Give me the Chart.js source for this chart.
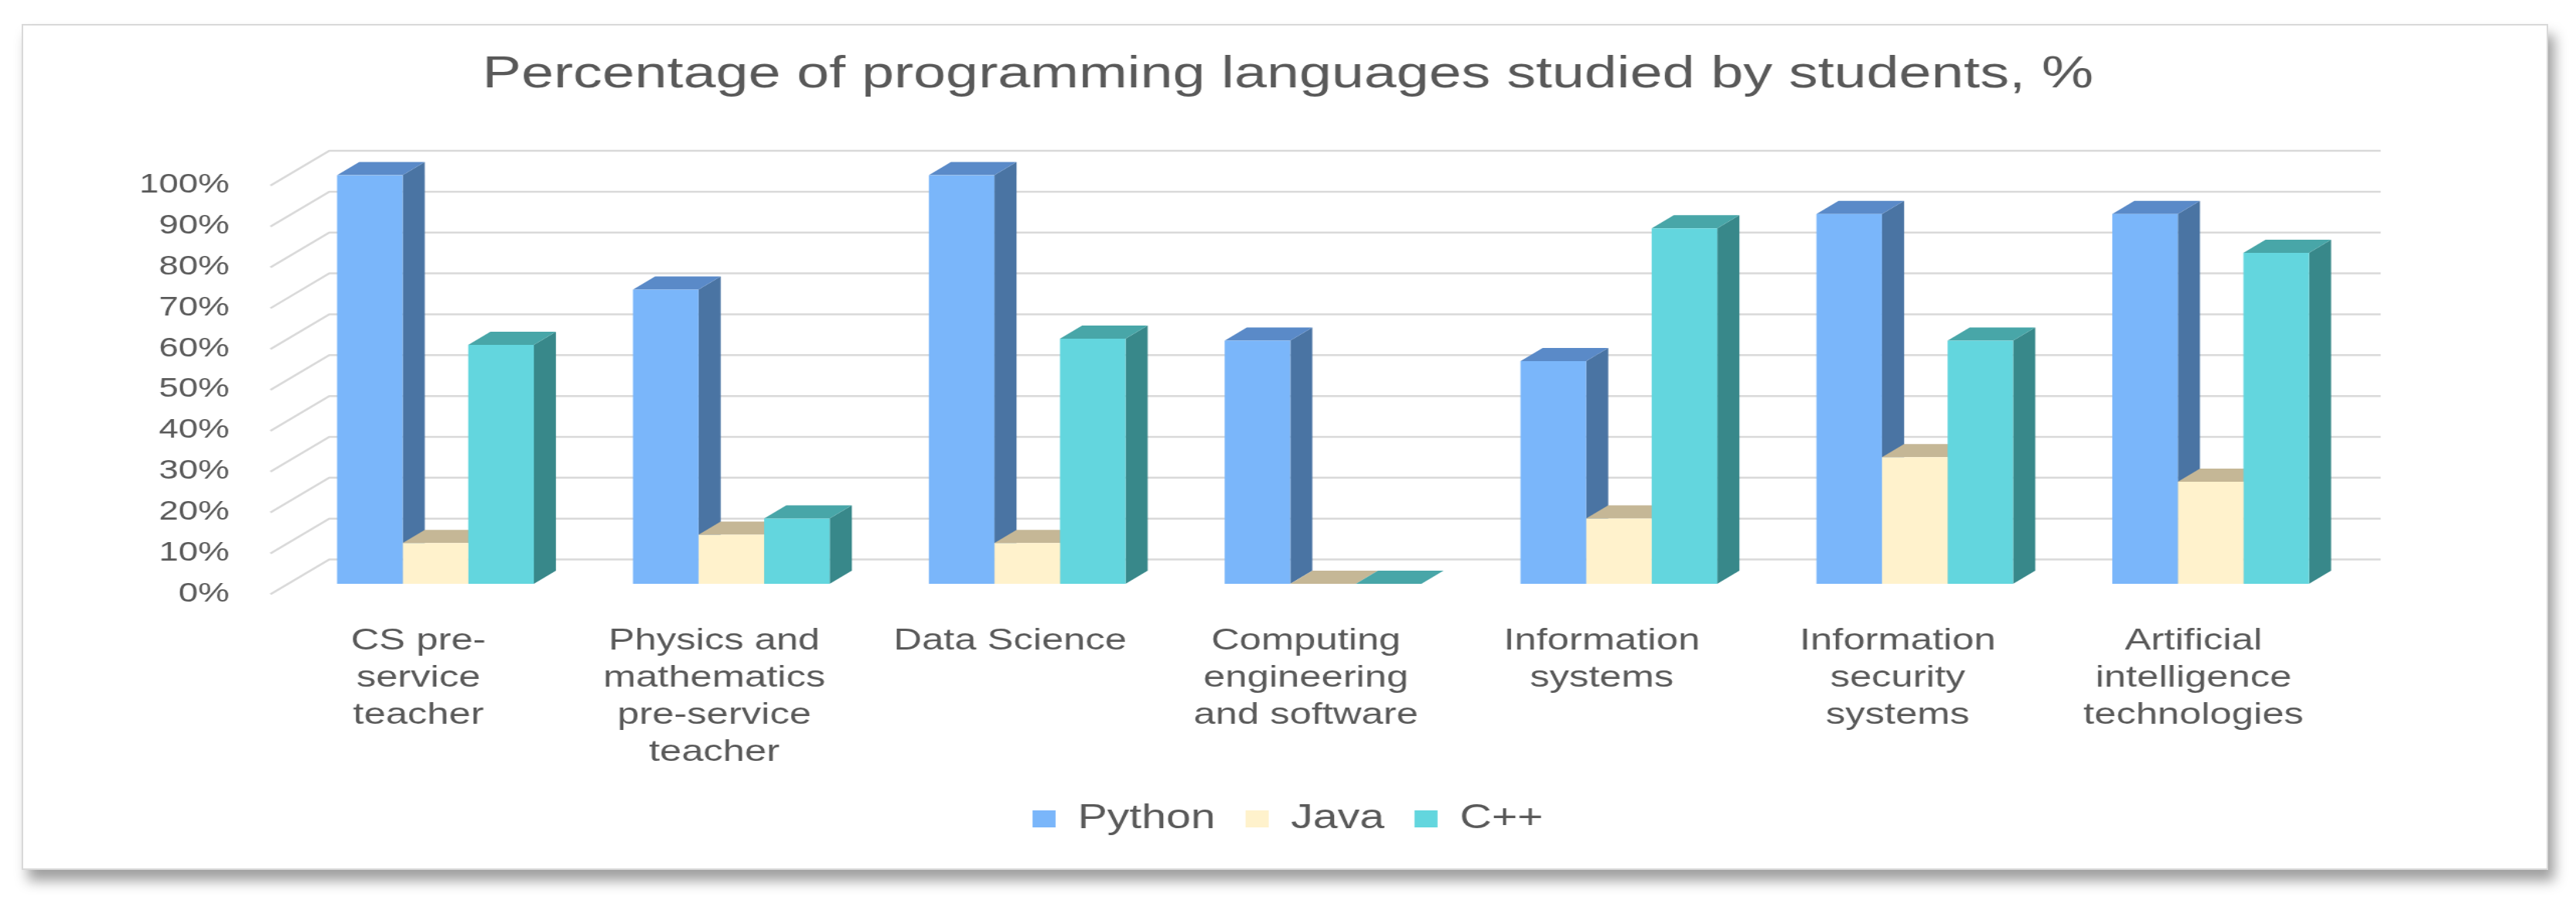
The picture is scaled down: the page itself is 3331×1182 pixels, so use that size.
<!DOCTYPE html>
<html>
<head>
<meta charset="utf-8">
<title>Percentage of programming languages studied by students</title>
<script src="https://cdn.jsdelivr.net/npm/chart.js"></script>
<style>
    html, body { margin: 0; padding: 0; background: #fff; overflow: hidden; }
    body { width: 3331px; height: 1182px; position: relative; }
    /* frame with the drop shadow round the whole chart */
    #frame {
        position: absolute; left: 28px; top: 31px;
        width: 3263px; height: 1090px;
        border: 2px solid #d9d9d9; background: #fff;
        box-shadow: 8px 14px 16px rgba(0, 0, 0, 0.38);
    }
    /* the source picture is stretched sideways, so the chart is drawn narrower and scaled */
    #wrap {
        position: absolute; left: 0; top: 0;
        width: 2562px; height: 1182px;
        transform: scaleX(1.3); transform-origin: 0 0;
    }
</style>
</head>
<body>
<div id="frame"></div>
<div id="wrap"><canvas id="chart"></canvas></div>
<script>
const categories = [
    ['CS pre-', 'service', 'teacher'],
    ['Physics and', 'mathematics', 'pre-service', 'teacher'],
    ['Data Science'],
    ['Computing', 'engineering', 'and software'],
    ['Information', 'systems'],
    ['Information', 'security', 'systems'],
    ['Artificial', 'intelligence', 'technologies']
];
const seriesNames = ['Python', 'Java', 'C++'];
const python = [100, 72, 100, 59.5, 54.5, 90.5, 90.5];
const java = [10, 12, 10, 0, 16, 31, 25];
const cpp = [58.5, 16, 60, 0, 87, 59.5, 81];
const yTicks = [0, 10, 20, 30, 40, 50, 60, 70, 80, 90, 100];

// front / top / side colours of the 3d bars
const frontColors = ['#7ab6fa', '#fff2cc', '#63d6de'];
const topColors = ['#5a8ac8', '#c5b796', '#48a6a8'];
const sideColors = ['#4a74a3', '#b8aa86', '#38888a'];

const BAR_DEPTH = { dx: 22, dy: -17 };   // depth of a bar
const WALL = { dx: 41.5, dy: -31.5 };    // back wall, from the bar front plane
const FRONT = { dx: -17, dy: 13.5 };     // front edge of the floor, where the labels sit

Chart.defaults.font.family = "'Liberation Sans', Arial, sans-serif";
Chart.defaults.color = '#595959';

function poly(ctx, pts) {
    ctx.beginPath();
    ctx.moveTo(pts[0][0], pts[0][1]);
    for (let i = 1; i < pts.length; i++) ctx.lineTo(pts[i][0], pts[i][1]);
    ctx.closePath();
    ctx.fill();
}

// back wall grid and the side / top faces, drawn under the bar fronts
const box3d = {
    id: 'box3d',
    beforeDatasetsDraw(chart) {
        const { ctx, chartArea } = chart;
        const y = chart.scales.y;
        ctx.save();
        ctx.strokeStyle = '#d9d9d9';
        ctx.lineWidth = 2.5;
        y.ticks.forEach(t => {
            const py = y.getPixelForValue(t.value);
            ctx.beginPath();
            ctx.moveTo(chartArea.left + FRONT.dx, py + FRONT.dy);
            ctx.lineTo(chartArea.left + WALL.dx, py + WALL.dy);
            ctx.lineTo(chartArea.right + 22, py + WALL.dy);
            ctx.stroke();
        });

        const { dx, dy } = BAR_DEPTH;
        chart.data.datasets.forEach((ds, i) => {
            chart.getDatasetMeta(i).data.forEach(bar => {
                const l = bar.x - bar.width / 2;
                const r = bar.x + bar.width / 2;
                const t = bar.y;
                const b = bar.base;
                ctx.fillStyle = sideColors[i];
                poly(ctx, [[r, t], [r + dx, t + dy], [r + dx, b + dy], [r, b]]);
                ctx.fillStyle = topColors[i];
                poly(ctx, [[l, t], [l + dx, t + dy], [r + dx, t + dy], [r, t]]);
            });
        });
        ctx.restore();
    }
};

const chart = new Chart(document.querySelector('#chart'), {
    type: 'bar',
    data: {
        labels: categories,
        datasets: [python, java, cpp].map((values, i) => ({
            label: seriesNames[i],
            data: values,
            backgroundColor: frontColors[i],
            borderWidth: 0,
            categoryPercentage: 0.665,
            barPercentage: 1.0
        }))
    },
    options: {
        responsive: true,
        maintainAspectRatio: false,
        animation: false,
        events: [],
        layout: { padding: { top: 0, left: 0, right: 0, bottom: 91 } },
        scales: {
            x: {
                grid: { display: false },
                border: { display: false },
                ticks: {
                    autoSkip: false,
                    maxRotation: 0,
                    padding: 42,
                    labelOffset: -17,
                    font: { size: 39, lineHeight: 1.23 }
                },
                afterFit: s => { s.height = 252; }
            },
            y: {
                min: 0,
                max: 100,
                afterBuildTicks: s => { s.ticks = yTicks.map(v => ({ value: v })); },
                grid: { display: false },
                border: { display: false },
                ticks: {
                    padding: 50,
                    labelOffset: 13,
                    font: { size: 35 },
                    callback: v => v + '%'
                },
                afterFit: s => { s.width = 286; }
            },
            // empty right-hand axis, only keeps the plot clear of the right edge
            y2: {
                type: 'linear',
                position: 'right',
                grid: { display: false },
                border: { display: false },
                ticks: { display: false },
                afterFit: s => { s.width = 216; }
            }
        },
        plugins: {
            title: {
                display: true,
                text: 'Percentage of programming languages studied by students, %',
                color: '#595959',
                font: { size: 58, weight: 'normal', lineHeight: 1.2 },
                padding: { top: 62, bottom: 95 }
            },
            legend: {
                position: 'bottom',
                labels: {
                    color: '#595959',
                    font: { size: 44 },
                    boxWidth: 23,
                    boxHeight: 22,
                    padding: 30
                }
            },
            tooltip: { enabled: false }
        }
    },
    plugins: [box3d]
});
</script>
</body>
</html>
